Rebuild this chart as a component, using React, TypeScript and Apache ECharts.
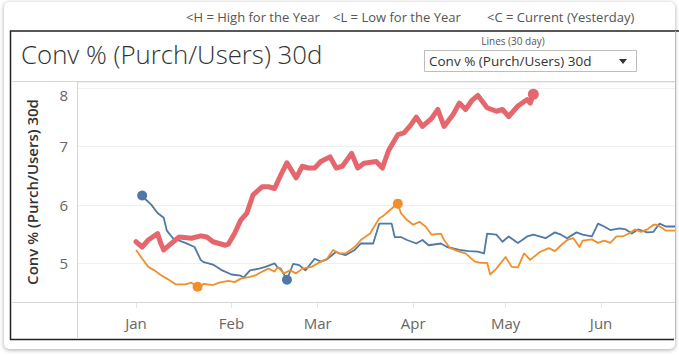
import React, { useEffect, useRef } from "react";
import * as echarts from "echarts";

const YEAR = 2019;
const MONTH_LABELS = ["Jan", "Feb", "Mar", "Apr", "May", "Jun"];
const MONTH_STARTS = ["01-01", "02-01", "03-01", "04-01", "05-01", "06-01"];
const Y_TICKS = [5, 6, 7, 8];

const redDates = ["01-01","01-03","01-05","01-08","01-09","01-10","01-12","01-15","01-19","01-22","01-24","01-26","01-28","01-30","01-31","02-02","02-04","02-06","02-08","02-11","02-13","02-15","02-17","02-19","02-22","02-24","02-26","02-28","03-02","03-05","03-07","03-09","03-12","03-14","03-16","03-20","03-22","03-24","03-27","03-29","03-31","04-02","04-04","04-07","04-09","04-11","04-14","04-16","04-18","04-20","04-22","04-25","04-28","04-30","05-02","05-05","05-08","05-09","05-10"];
const redValues = [5.37,5.28,5.40,5.51,5.35,5.23,5.32,5.45,5.43,5.47,5.45,5.37,5.34,5.31,5.33,5.51,5.74,5.86,6.17,6.31,6.31,6.28,6.51,6.72,6.46,6.66,6.63,6.63,6.74,6.82,6.63,6.66,6.88,6.63,6.71,6.74,6.63,6.93,7.20,7.23,7.35,7.50,7.34,7.48,7.63,7.34,7.55,7.74,7.63,7.78,7.87,7.66,7.60,7.63,7.51,7.69,7.80,7.74,7.89];

const blueDates = ["01-03","01-04","01-06","01-08","01-10","01-11","01-13","01-17","01-20","01-22","01-23","01-26","01-29","02-01","02-04","02-05","02-07","02-10","02-12","02-15","02-16","02-17","02-19","02-21","02-23","02-25","02-28","03-02","03-04","03-07","03-08","03-10","03-13","03-15","03-19","03-21","03-23","03-25","03-26","03-28","03-30","04-02","04-04","04-06","04-10","04-12","04-16","04-19","04-22","04-24","04-25","04-28","04-30","05-02","05-05","05-08","05-10","05-12","05-14","05-17","05-19","05-21","05-24","05-26","05-29","05-30","05-31","06-02","06-04","06-07","06-09","06-11","06-13","06-16","06-18","06-20","06-22","06-25"];
const blueValues = [6.16,6.10,6.00,5.86,5.78,5.56,5.43,5.35,5.28,5.06,5.02,4.98,4.88,4.81,4.79,4.76,4.88,4.91,4.94,5.00,4.93,4.91,4.72,4.99,4.97,4.88,5.08,5.03,5.07,5.20,5.17,5.14,5.23,5.34,5.34,5.68,5.68,5.68,5.45,5.45,5.40,5.34,5.40,5.31,5.34,5.28,5.23,5.21,5.20,5.17,5.51,5.49,5.37,5.46,5.35,5.46,5.49,5.46,5.43,5.53,5.49,5.43,5.53,5.49,5.46,5.57,5.68,5.63,5.57,5.60,5.58,5.51,5.58,5.53,5.54,5.68,5.63,5.63];

const orangeDates = ["01-01","01-03","01-05","01-07","01-09","01-11","01-14","01-17","01-19","01-21","01-23","01-26","01-28","01-31","02-02","02-04","02-07","02-09","02-11","02-13","02-15","02-16","02-18","02-20","02-22","02-24","02-27","03-02","03-04","03-06","03-08","03-10","03-13","03-15","03-18","03-21","03-22","03-24","03-26","03-27","03-28","03-30","04-01","04-03","04-05","04-07","04-10","04-11","04-13","04-16","04-18","04-21","04-23","04-25","04-26","04-28","05-01","05-03","05-05","05-07","05-09","05-12","05-15","05-17","05-19","05-21","05-23","05-25","05-26","05-29","05-31","06-02","06-04","06-06","06-08","06-10","06-12","06-14","06-16","06-18","06-19","06-21","06-22","06-25"];
const orangeValues = [5.23,5.08,4.94,4.88,4.80,4.74,4.64,4.64,4.67,4.60,4.65,4.63,4.67,4.70,4.68,4.74,4.77,4.80,4.86,4.91,4.86,4.94,4.83,4.88,4.83,4.91,4.94,5.03,5.08,5.23,5.17,5.17,5.28,5.40,5.51,5.77,5.80,5.89,5.98,6.02,5.86,5.74,5.66,5.71,5.63,5.49,5.51,5.40,5.26,5.20,5.17,5.03,5.01,5.01,4.81,4.91,5.11,4.94,4.93,5.17,5.06,5.19,5.26,5.21,5.31,5.40,5.43,5.28,5.39,5.41,5.35,5.39,5.35,5.46,5.46,5.51,5.58,5.54,5.58,5.66,5.66,5.60,5.56,5.56];

const DAY = 86400000;
// day of year (0 = Jan 1)
const doy = (md: string) => {
  const [m, d] = md.split("-").map(Number);
  return Math.round((Date.UTC(YEAR, m - 1, d) - Date.UTC(YEAR, 0, 1)) / DAY);
};
const pairs = (dates: string[], values: number[]) => dates.map((d, i) => [doy(d), values[i]]);

const RED = "#e5676d";
const BLUE = "#4e79a7";
const ORANGE = "#f28e2b";
const FONT = "'Open Sans', 'Noto Sans', sans-serif";

export default function App() {
  const ref = useRef<HTMLDivElement>(null);
  useEffect(() => {
    if (!ref.current) return;
    const chart = echarts.init(ref.current, undefined, { renderer: "svg" });
    const redData = pairs(redDates, redValues);
    const last = redData[redData.length - 1];
    const monthDays = MONTH_STARTS.map((m) => doy(m));
    const gray = "#d6d6d6";
    chart.setOption({
      animation: false,
      textStyle: { fontFamily: FONT },
      grid: { left: 77, right: 4, top: 82, bottom: 54, containLabel: false },
      xAxis: {
        type: "value",
        min: -19.16,
        max: 175,
        axisLine: { show: false },
        splitLine: { show: false },
        axisTick: { show: true, length: 6, customValues: monthDays, lineStyle: { color: "#e4e4e4" } },
        axisLabel: {
          customValues: monthDays,
          margin: 13,
          fontSize: 15,
          color: "#666",
          fontFamily: FONT,
          formatter: (v: number) => {
            const i = monthDays.indexOf(Math.round(v));
            return i >= 0 ? MONTH_LABELS[i] : "";
          },
        },
      },
      yAxis: {
        type: "value",
        min: 4.34,
        max: 8.1,
        splitNumber: 4,
        name: "Conv % (Purch/Users) 30d",
        nameLocation: "middle",
        nameRotate: 90,
        nameGap: 38,
        nameTextStyle: { fontSize: 15, fontWeight: 600, color: "#333", fontFamily: FONT },
        axisLine: { show: false },
        axisTick: { show: false },
        splitLine: { show: true, lineStyle: { color: "#efefef", width: 1 } },
        axisLabel: {
          margin: 9,
          fontSize: 15,
          color: "#666",
          fontFamily: FONT,
          showMinLabel: false,
          showMaxLabel: false,
          formatter: (v: number) => {
            const r = Math.round(v);
            if (Math.abs(v - r) > 1e-6 || !Y_TICKS.includes(r)) return "";
            return r === Y_TICKS[Y_TICKS.length - 1] ? "{top|" + r + "}" : String(r);
          },
          rich: { top: { padding: [14, 0, 0, 0], fontSize: 15, color: "#666", fontFamily: FONT } },
        },
      },
      series: [
        {
          name: "Blue",
          type: "line",
          data: pairs(blueDates, blueValues),
          showSymbol: false,
          symbol: "none",
          lineStyle: { color: BLUE, width: 1.8, join: "round" },
          itemStyle: { color: BLUE },
          z: 3,
          markPoint: {
            symbol: "circle",
            symbolSize: 10,
            label: { show: false },
            itemStyle: { color: BLUE },
            data: [{ type: "max" }, { type: "min" }],
          },
        },
        {
          name: "Orange",
          type: "line",
          data: pairs(orangeDates, orangeValues),
          showSymbol: false,
          symbol: "none",
          lineStyle: { color: ORANGE, width: 1.8, join: "round" },
          itemStyle: { color: ORANGE },
          z: 4,
          markPoint: {
            symbol: "circle",
            symbolSize: 10,
            label: { show: false },
            itemStyle: { color: ORANGE },
            data: [{ type: "max" }, { type: "min" }],
          },
        },
        {
          name: "Red",
          type: "line",
          data: redData,
          showSymbol: false,
          symbol: "none",
          lineStyle: { color: RED, width: 5, join: "round", cap: "round" },
          itemStyle: { color: RED },
          z: 5,
          markPoint: {
            symbol: "circle",
            symbolSize: 11,
            label: { show: false },
            itemStyle: { color: RED },
            data: [{ coord: last }],
          },
        },
      ],
      graphic: [
        { type: "text", x: 186, y: 17, z: 10, style: { text: "<H = High for the Year", font: `13px ${FONT}`, fill: "#555", verticalAlign: "middle" } },
        { type: "text", x: 333, y: 17, z: 10, style: { text: "<L = Low for the Year", font: `13px ${FONT}`, fill: "#555", verticalAlign: "middle" } },
        { type: "text", x: 487, y: 17, z: 10, style: { text: "<C = Current (Yesterday)", font: `13px ${FONT}`, fill: "#555", verticalAlign: "middle" } },
        { type: "polyline", z: 10, shape: { points: [[679, 31], [10.5, 31], [10.5, 339.5], [674, 339.5]] }, style: { fill: "none", stroke: "#222", lineWidth: 1.5 } },
        { type: "line", z: 10, shape: { x1: 675.5, y1: 31, x2: 675.5, y2: 339 }, style: { stroke: "#bbb", lineWidth: 1 } },
        { type: "text", x: 21, y: 54, z: 10, style: { text: "Conv % (Purch/Users) 30d", font: `300 25.8px ${FONT}`, fill: "#333", verticalAlign: "middle" } },
        { type: "text", x: 513, y: 41, z: 10, style: { text: "Lines (30 day)", font: `10px ${FONT}`, fill: "#555", align: "center", verticalAlign: "middle" } },
        { type: "rect", z: 10, shape: { x: 424.5, y: 50.5, width: 212, height: 21 }, style: { fill: "#fff", stroke: "#bdbdbd", lineWidth: 1 } },
        { type: "text", x: 429, y: 61, z: 11, style: { text: "Conv % (Purch/Users) 30d", font: `13.5px ${FONT}`, fill: "#333", verticalAlign: "middle" } },
        { type: "polygon", z: 11, shape: { points: [[619, 59], [627, 59], [623, 64]] }, style: { fill: "#333" } },
        { type: "line", z: 10, shape: { x1: 11, y1: 81.5, x2: 675, y2: 81.5 }, style: { stroke: gray, lineWidth: 1 } },
        { type: "line", z: 10, shape: { x1: 77.5, y1: 82, x2: 77.5, y2: 339 }, style: { stroke: gray, lineWidth: 1 } },
        { type: "line", z: 10, shape: { x1: 11, y1: 302.5, x2: 675, y2: 302.5 }, style: { stroke: gray, lineWidth: 1 } },
      ],
    });
    return () => chart.dispose();
  }, []);

  return (
    <div style={{ position: "fixed", left: 0, top: 0, width: 679, height: 356, background: "#fff" }}>
      <div
        style={{
          position: "absolute",
          left: 4,
          top: 2,
          width: 671,
          height: 347,
          borderRadius: 5,
          background: "#fff",
          boxShadow: "0 1px 4px rgba(0,0,0,0.35)",
        }}
      />
      <div ref={ref} style={{ position: "absolute", left: 0, top: 0, width: 679, height: 356 }} />
    </div>
  );
}
